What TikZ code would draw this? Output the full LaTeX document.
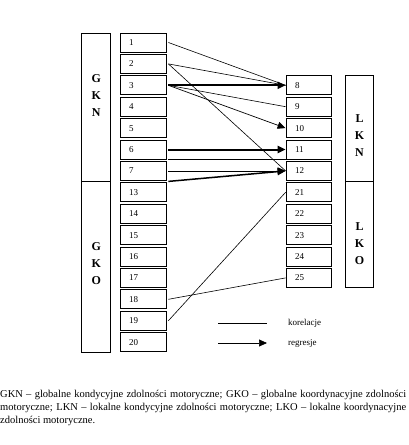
\documentclass[tikz,border=0pt]{standalone}
\usepackage{fontspec}
\setmainfont{Liberation Serif}
\usetikzlibrary{arrows.meta,calc}
\begin{document}
\begin{tikzpicture}[x=1pt,y=-1pt,
  lbox/.style={draw,line width=0.8pt,minimum width=46pt,minimum height=19pt,inner xsep=9pt,inner ysep=0pt,text width=28pt,align=left,font=\fontsize{9}{10}\selectfont},
  rbox/.style={lbox,minimum width=45pt,text width=27pt},
  bigbox/.style={draw,line width=0.8pt,inner sep=0pt},
  biglab/.style={align=center,inner sep=0pt,font=\fontsize{12}{17}\selectfont\bfseries},
  corr/.style={line width=0.6pt},
  regr/.style={line width=0.7pt,-{Triangle[length=8pt,width=7pt]}},
  regrT/.style={line width=2pt,-{Triangle[length=8pt,width=7pt]}},
  divider/.style={line width=1.6pt},
  legtext/.style={anchor=west,inner sep=0pt,font=\fontsize{9}{10}\selectfont},
]
\useasboundingbox (0,0) rectangle (408,445);

% left column of boxes
\foreach \t [count=\i from 0] in {1,2,3,4,5,6,7,13,14,15,16,17,18,19,20}
  \node[lbox] (b\t) at (143, 42.5+21.4*\i) {\t};
% right column of boxes
\foreach \t/\i in {8/2,9/3,10/4,11/5,12/6,21/7,22/8,23/9,24/10,25/11}
  \node[rbox] (b\t) at (308.5, 42.5+21.4*\i) {\t};

\coordinate (mid) at ($(b7.south)!0.5!(b13.north)$);

% big boxes
\node[bigbox,minimum width=29pt,minimum height=319pt] (gl) at (96.2,192.5) {};
\draw[divider] (gl.west |- mid) -- (gl.east |- mid);
\node[biglab] (tgkn) at (96.2,96) {G\\K\\N};
\node[biglab] (tgko) at (96.2,264) {G\\K\\O};

\node[bigbox,minimum width=28pt,minimum height=211.6pt] (ll) at (359.5,181.6) {};
\draw[divider] (ll.west |- mid) -- (ll.east |- mid);
\node[biglab] (tlkn) at (359.5,136) {L\\K\\N};
\node[biglab] (tlko) at (359.5,244) {L\\K\\O};

% connectors
\draw[corr] ($(b1.east)+(2,0)$) -- (b8.west);
\draw[corr] ($(b2.east)+(2,0)$) -- (b8.west);
\draw[corr] ($(b2.east)+(2,0)$) -- (b12.west);
\draw[regrT] ($(b3.east)+(2,0)$) -- (b8.west);
\draw[corr] ($(b3.east)+(2,0)$) -- (b9.west);
\draw[regr] ($(b3.east)+(2,0)$) -- (b10.west);
\draw[regrT] ($(b6.east)+(2,0)$) -- (b11.west);
\draw[corr] ($(b7.north east)+(2,-1.4)$) -- ($(b12.north west)+(0,-1.4)$);
\draw[regr] ($(b7.east)+(2,0)$) -- (b12.west);
\draw[regrT,line width=1.5pt] ($(b13.north east)+(2,-1)$) -- (b12.west);
\draw[corr] ($(b18.east)+(2,0)$) -- (b25.west);
\draw[corr] ($(b19.east)+(2,0)$) -- (b21.west);

% legend
\coordinate (k1) at (218,323);
\coordinate (k2) at (267,323);
\coordinate (r1) at (218,343);
\coordinate (r2) at (267,343);
\draw[corr] (k1) -- (k2);
\draw[regr] (r1) -- (r2);
\node[legtext] (lk) at (288,323) {korelacje};
\node[legtext] (lr) at (288,343) {regresje};

% caption
\node[anchor=north west,inner sep=0pt,text width=406pt,align=justify,
      font=\fontsize{10.5}{13}\selectfont] (cap) at (0,389.5)
{\noindent GKN – globalne kondycyjne zdolności motoryczne; GKO – globalne koordynacyjne zdolności\linebreak
motoryczne; LKN – lokalne kondycyjne zdolności motoryczne; LKO – lokalne koordynacyjne\linebreak
zdolności motoryczne.};
\end{tikzpicture}
\end{document}
